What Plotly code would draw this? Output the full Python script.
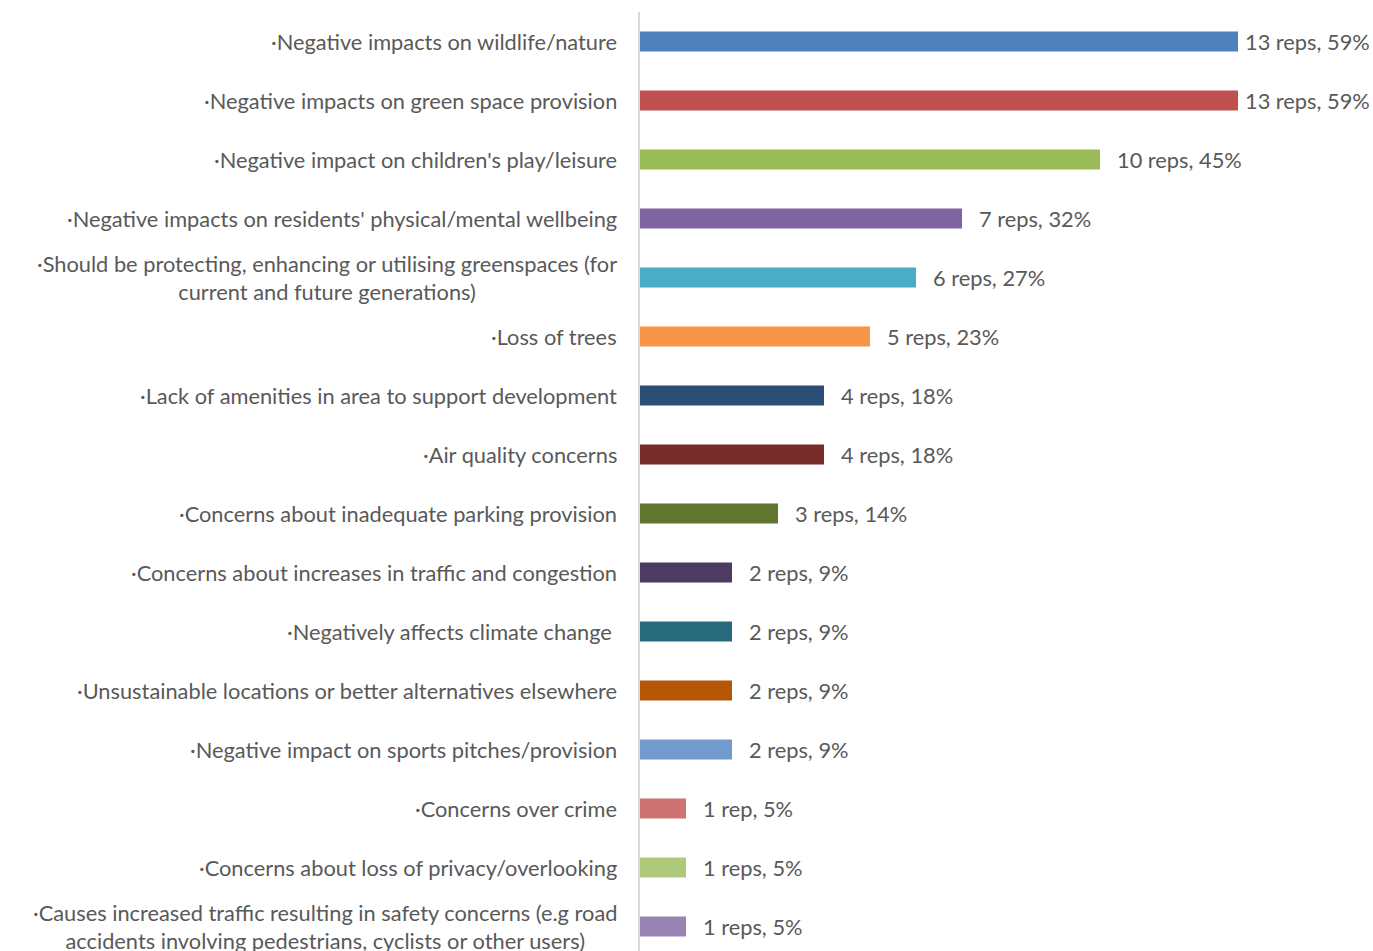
import plotly.graph_objects as go

categories = [
    "·Negative impacts on wildlife/nature",
    "·Negative impacts on green space provision",
    "·Negative impact on children's play/leisure",
    "·Negative impacts on residents' physical/mental wellbeing",
    "·Should be protecting, enhancing or utilising greenspaces (for<br>current and future generations)",
    "·Loss of trees",
    "·Lack of amenities in area to support development",
    "·Air quality concerns",
    "·Concerns about inadequate parking provision",
    "·Concerns about increases in traffic and congestion",
    "·Negatively affects climate change ",
    "·Unsustainable locations or better alternatives elsewhere",
    "·Negative impact on sports pitches/provision",
    "·Concerns over crime",
    "·Concerns about loss of privacy/overlooking",
    "·Causes increased traffic resulting in safety concerns (e.g road<br>accidents involving pedestrians, cyclists or other users)",
]
reps = [13, 13, 10, 7, 6, 5, 4, 4, 3, 2, 2, 2, 2, 1, 1, 1]
value_labels = [
    "13 reps, 59%", "13 reps, 59%", "10 reps, 45%", "7 reps, 32%", "6 reps, 27%",
    "5 reps, 23%", "4 reps, 18%", "4 reps, 18%", "3 reps, 14%", "2 reps, 9%",
    "2 reps, 9%", "2 reps, 9%", "2 reps, 9%", "1 rep, 5%", "1 reps, 5%", "1 reps, 5%",
]
colors = [
    "#4F81BD", "#C0504D", "#9BBB59", "#8064A2", "#4BACC6", "#F79646",
    "#2C4D75", "#772C2A", "#5F7530", "#4D3B62", "#276A7C", "#B65708",
    "#729ACA", "#CD7371", "#AFC97A", "#9983B5",
]

FONT = "Lato, 'Open Sans', sans-serif"
TXT = "#595959"
FS = 21.8
ypos = list(range(len(categories)))

fig = go.Figure(go.Bar(
    x=reps, y=ypos, orientation="h",
    marker=dict(color=colors, line=dict(width=0)),
    width=0.34, hoverinfo="skip",
))

annotations = []
for i, (cat, v, lab) in enumerate(zip(categories, reps, value_labels)):
    annotations.append(dict(
        x=0, y=i, xref="x", yref="y", text=cat, showarrow=False,
        xanchor="right", yanchor="middle", align="center", xshift=-21,
        font=dict(family=FONT, size=FS, color=TXT),
    ))
    annotations.append(dict(
        x=v, y=i, xref="x", yref="y", text=lab, showarrow=False,
        xanchor="left", yanchor="middle", xshift=5 if v >= 13 else 15,
        font=dict(family=FONT, size=FS, color=TXT),
    ))

fig.update_layout(
    width=1373, height=951,
    margin=dict(l=640, r=43, t=12, b=0),
    plot_bgcolor="white", paper_bgcolor="white",
    showlegend=False,
    annotations=annotations,
    xaxis=dict(range=[0, 15], showgrid=False, zeroline=False, showticklabels=False,
               showline=False, fixedrange=True),
    yaxis=dict(range=[15.415, -0.5], showgrid=False, zeroline=False,
               showticklabels=False, showline=True, linecolor="#D9D9D9",
               linewidth=2, mirror=False, fixedrange=True),
)

fig.write_html(
    "out.html",
    config={"displayModeBar": False},
    post_script="document.body.style.margin='0';document.body.style.overflow='hidden';",
)
